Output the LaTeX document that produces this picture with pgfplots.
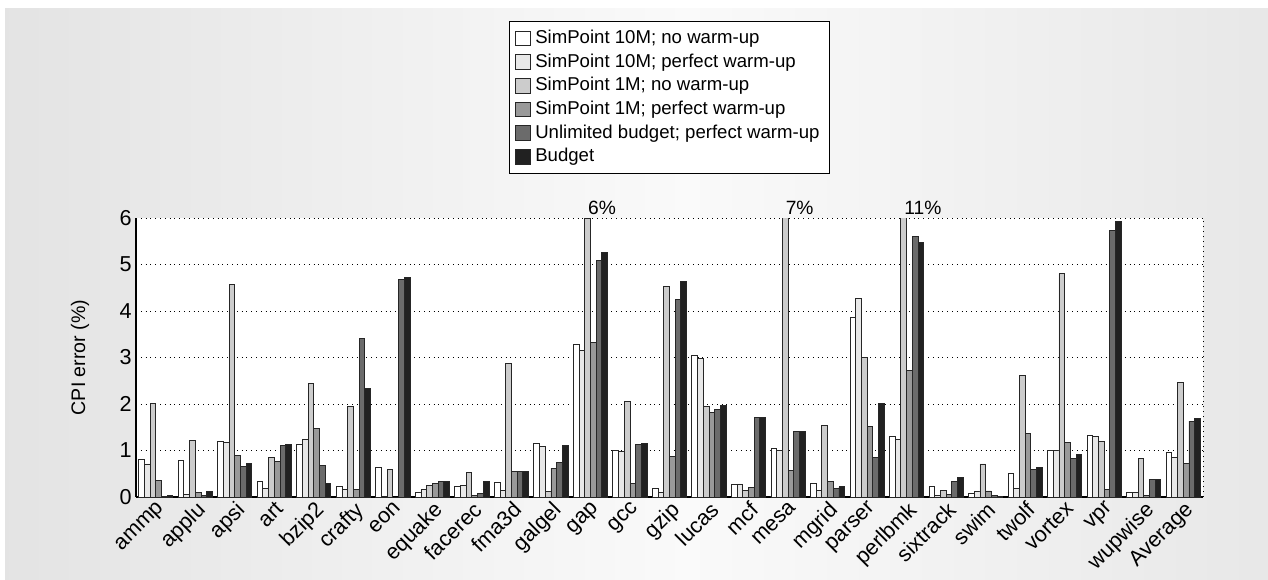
\documentclass[border=0pt]{standalone}
\usepackage{fontspec}
\setmainfont{Liberation Sans}
\usepackage{pgfplots}
\usepackage{pgfplotstable}
\pgfplotsset{compat=1.18}

\pgfplotstableread{
idx name a b c d e f
0 ammp 0.80 0.71 2.02 0.36 0.01 0.03
1 applu 0.78 0.05 1.22 0.09 0.03 0.11
2 apsi 1.20 1.18 4.57 0.90 0.65 0.73
3 art 0.34 0.19 0.86 0.77 1.11 1.13
4 bzip2 1.14 1.23 2.44 1.48 0.68 0.29
5 crafty 0.22 0.17 1.94 0.17 3.41 2.33
6 eon 0.64 0.01 0.59 0.00 4.68 4.73
7 equake 0.10 0.16 0.24 0.29 0.33 0.34
8 facerec 0.23 0.24 0.52 0.04 0.07 0.34
9 fma3d 0.32 0.14 2.87 0.55 0.55 0.55
10 galgel 1.16 1.08 0.11 0.62 0.75 1.10
11 gap 3.28 3.16 6 3.33 5.08 5.26
12 gcc 1.01 0.98 2.05 0.29 1.12 1.15
13 gzip 0.18 0.10 4.52 0.87 4.25 4.64
14 lucas 3.05 2.97 1.95 1.82 1.89 1.96
15 mcf 0.27 0.28 0.14 0.20 1.71 1.72
16 mesa 1.05 1.00 7 0.57 1.40 1.40
17 mgrid 0.29 0.14 1.53 0.34 0.19 0.22
18 parser 3.87 4.27 3.00 1.51 0.85 2.01
19 perlbmk 1.31 1.23 11 2.73 5.61 5.48
20 sixtrack 0.22 0.03 0.14 0.05 0.34 0.41
21 swim 0.08 0.12 0.71 0.13 0.03 0.02
22 twolf 0.50 0.19 2.62 1.36 0.59 0.64
23 vortex 1.00 1.00 4.80 1.18 0.82 0.92
24 vpr 1.32 1.30 1.20 0.17 5.73 5.93
25 wupwise 0.09 0.09 0.83 0.03 0.37 0.37
26 Average 0.95 0.85 2.47 0.73 1.63 1.68
}\data

\definecolor{cA}{gray}{1.0}
\definecolor{cB}{gray}{0.91}
\definecolor{cC}{gray}{0.80}
\definecolor{cD}{gray}{0.60}
\definecolor{cE}{gray}{0.42}
\definecolor{cF}{gray}{0.13}
\definecolor{bgL}{gray}{0.81}
\definecolor{bgM}{gray}{0.98}
\definecolor{bgR}{gray}{0.83}
\pgfdeclarehorizontalshading{bgshade}{100bp}{color(0bp)=(bgL); color(52bp)=(bgM); color(100bp)=(bgR)}

\begin{document}
\begin{tikzpicture}
\fill[white] (0,0) rectangle (634pt,289.5pt);
\shade[shading=bgshade] (2.5pt,0) rectangle (634pt,285pt);
\begin{axis}[
  at={(68pt,41pt)}, anchor=south west,
  scale only axis, width=533.5pt, height=139.5pt,
  ybar=0pt, bar width=2.85pt,
  xmin=-0.5, xmax=26.5, ymin=0, ymax=6,
  ytick={0,1,2,3,4,5,6},
  xtick=data,
  xticklabels from table={\data}{name},
  major tick length=0pt,
  axis lines*=left,
  axis line style={black, line width=0.6pt},
  axis background/.style={fill=white},
  ymajorgrids, grid style={black, dotted, line width=0.5pt},
  font=\fontsize{9.6}{11}\selectfont,
  /pgf/number format/assume math mode=true,
  xticklabel style={rotate=45, anchor=north east, inner sep=1pt, font=\fontsize{10.8}{12}\selectfont},
  yticklabel style={font=\fontsize{10.8}{12}\selectfont, inner sep=2pt},
  ylabel={CPI error (\%)},
  ylabel style={at={(axis description cs:-0.0525,0.5)}, anchor=center, font=\fontsize{9.8}{11}\selectfont},
  every axis plot/.append style={draw=black!85, line width=0.45pt},
  legend style={at={(0.5,1.706)}, anchor=north, draw=black, line width=0.5pt, fill=white,
    font=\fontsize{9.3}{9.3}\selectfont, row sep=0pt, inner xsep=3pt, inner ysep=2.5pt,
    nodes={inner ysep=1.8pt}},
  legend cell align=left,
  legend image code/.code={\draw[#1, line width=0.45pt] (0pt,-3.7pt) rectangle (7.5pt,3.7pt);},
  after end axis/.code={
    \draw[black, dotted, line width=0.5pt] (rel axis cs:1,0) -- (rel axis cs:1,1);
    \node[anchor=south west, inner sep=1.5pt, font=\fontsize{9.6}{11}\selectfont, xshift=-2.85pt] at (axis cs:11,6) {6\%};
    \node[anchor=south west, inner sep=1.5pt, font=\fontsize{9.6}{11}\selectfont, xshift=-2.85pt] at (axis cs:16,6) {7\%};
    \node[anchor=south west, inner sep=1.5pt, font=\fontsize{9.6}{11}\selectfont, xshift=-2.85pt] at (axis cs:19,6) {11\%};
  },
]
\addplot[fill=cA] table[x=idx, y=a] {\data};
\addplot[fill=cB] table[x=idx, y=b] {\data};
\addplot[fill=cC] table[x=idx, y=c] {\data};
\addplot[fill=cD] table[x=idx, y=d] {\data};
\addplot[fill=cE] table[x=idx, y=e] {\data};
\addplot[fill=cF] table[x=idx, y=f] {\data};
\legend{SimPoint 10M; no warm-up, SimPoint 10M; perfect warm-up, SimPoint 1M; no warm-up, SimPoint 1M; perfect warm-up, Unlimited budget; perfect warm-up, Budget}
\end{axis}
\end{tikzpicture}
\end{document}
